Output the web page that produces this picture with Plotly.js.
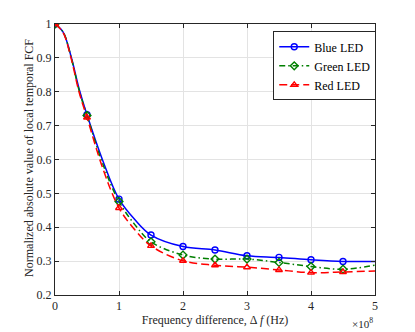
<!DOCTYPE html>
<html>
<head>
<meta charset="utf-8">
<script src="https://cdn.plot.ly/plotly-3.0.1.min.js"></script>
<style>
  html, body { margin: 0; padding: 0; background: #fff; }
  #chart { width: 415px; height: 332px; }
</style>
</head>
<body>
<div id="chart"></div>
<script>
// frequency difference in units of 1e8 Hz
const markFreq = [0, 0.5, 1, 1.5, 2, 2.5, 3, 3.5, 4, 4.5];
const blueMarks = [1, 0.732, 0.483, 0.377, 0.343, 0.333, 0.316, 0.311, 0.304, 0.299];
const greenMarks = [1, 0.73, 0.476, 0.357, 0.318, 0.306, 0.306, 0.296, 0.284, 0.276];
const redMarks = [1, 0.724, 0.457, 0.345, 0.301, 0.288, 0.282, 0.274, 0.266, 0.268];

// curve samples
const curveFreq = [0, 0.125, 0.25, 0.375, 0.5, 0.75, 1, 1.25, 1.5, 2, 2.5, 3, 3.5, 4, 4.5, 5];
const blueCurve = [1, 0.977, 0.905, 0.81, 0.732, 0.595, 0.483, 0.422, 0.377, 0.343, 0.333, 0.316, 0.311, 0.304, 0.299, 0.299];
const greenCurve = [1, 0.977, 0.903, 0.805, 0.73, 0.585, 0.476, 0.407, 0.357, 0.318, 0.306, 0.306, 0.296, 0.284, 0.276, 0.288];
const redCurve = [1, 0.975, 0.9, 0.8, 0.724, 0.572, 0.457, 0.392, 0.345, 0.301, 0.288, 0.282, 0.274, 0.266, 0.268, 0.271];

const xTicks = [0, 1, 2, 3, 4, 5];
const yTicks = [0.2, 0.3, 0.4, 0.5, 0.6, 0.7, 0.8, 0.9, 1];

const series = [
  {name: 'Blue LED', color: '#0000ff', dash: 'solid', symbol: 'circle-open', marks: blueMarks, curve: blueCurve},
  {name: 'Green LED', color: '#007f00', dash: '6px,3px,1.5px,3px', symbol: 'diamond-open', marks: greenMarks, curve: greenCurve},
  {name: 'Red LED', color: '#ff0000', dash: '8px,4px', symbol: 'triangle-up-open', marks: redMarks, curve: redCurve}
];

const data = [];
series.forEach(s => {
  data.push({x: curveFreq, y: s.curve, type: 'scatter', mode: 'lines', showlegend: false,
    line: {color: s.color, width: 1.5, dash: s.dash, shape: 'spline', smoothing: 1}});
  data.push({x: markFreq, y: s.marks, type: 'scatter', mode: 'markers', showlegend: false,
    marker: {symbol: s.symbol, size: 6, color: s.color, line: {width: 1.4, color: s.color}}});
});
// legend entries
series.forEach(s => {
  data.push({x: [null], y: [null], type: 'scatter', mode: 'lines+markers', name: s.name,
    line: {color: s.color, width: 1.5, dash: s.dash},
    marker: {symbol: s.symbol, size: 6, color: s.color, line: {width: 1.4, color: s.color}}});
});

const serif = 'Times New Roman, Liberation Serif, serif';

const axisStyle = {
  showline: true, mirror: 'ticks', linecolor: '#262626', linewidth: 1,
  ticks: 'inside', ticklen: 4, tickcolor: '#262626',
  showgrid: true, gridcolor: '#e3e3e3', gridwidth: 1, zeroline: false,
  tickfont: {family: serif, size: 12, color: '#262626'}
};

const layout = {
  width: 415, height: 332,
  margin: {l: 54.5, r: 40, t: 24, b: 37},
  paper_bgcolor: '#fff', plot_bgcolor: '#fff',
  font: {family: serif, color: '#262626'},
  xaxis: Object.assign({}, axisStyle, {
    range: [0, 5], tickvals: xTicks,
    title: {text: 'Frequency difference, Δ <i>f</i> (Hz)', font: {family: serif, size: 12}, standoff: 3}
  }),
  yaxis: Object.assign({}, axisStyle, {
    range: [0.2, 1], tickvals: yTicks
  }),
  legend: {
    x: 0.682, y: 0.973, xanchor: 'left', yanchor: 'top',
    bgcolor: '#fff', bordercolor: '#262626', borderwidth: 1,
    font: {family: serif, size: 12, color: '#000'}, tracegroupgap: 0, itemwidth: 30
  },
  annotations: [
    {text: '×10<sup>8</sup>', xref: 'paper', yref: 'paper', x: 1, y: -0.07,
     xanchor: 'right', yanchor: 'top', showarrow: false, font: {family: serif, size: 11, color: '#262626'}},
    {text: 'Normalized absolute value of local temporal FCF', xref: 'paper', yref: 'paper',
     x: -0.082, y: 0.505, xanchor: 'center', yanchor: 'middle', textangle: -90, showarrow: false,
     font: {family: serif, size: 12, color: '#262626'}}
  ]
};

Plotly.newPlot('chart', data, layout, {displayModeBar: false, staticPlot: true});
</script>
</body>
</html>
